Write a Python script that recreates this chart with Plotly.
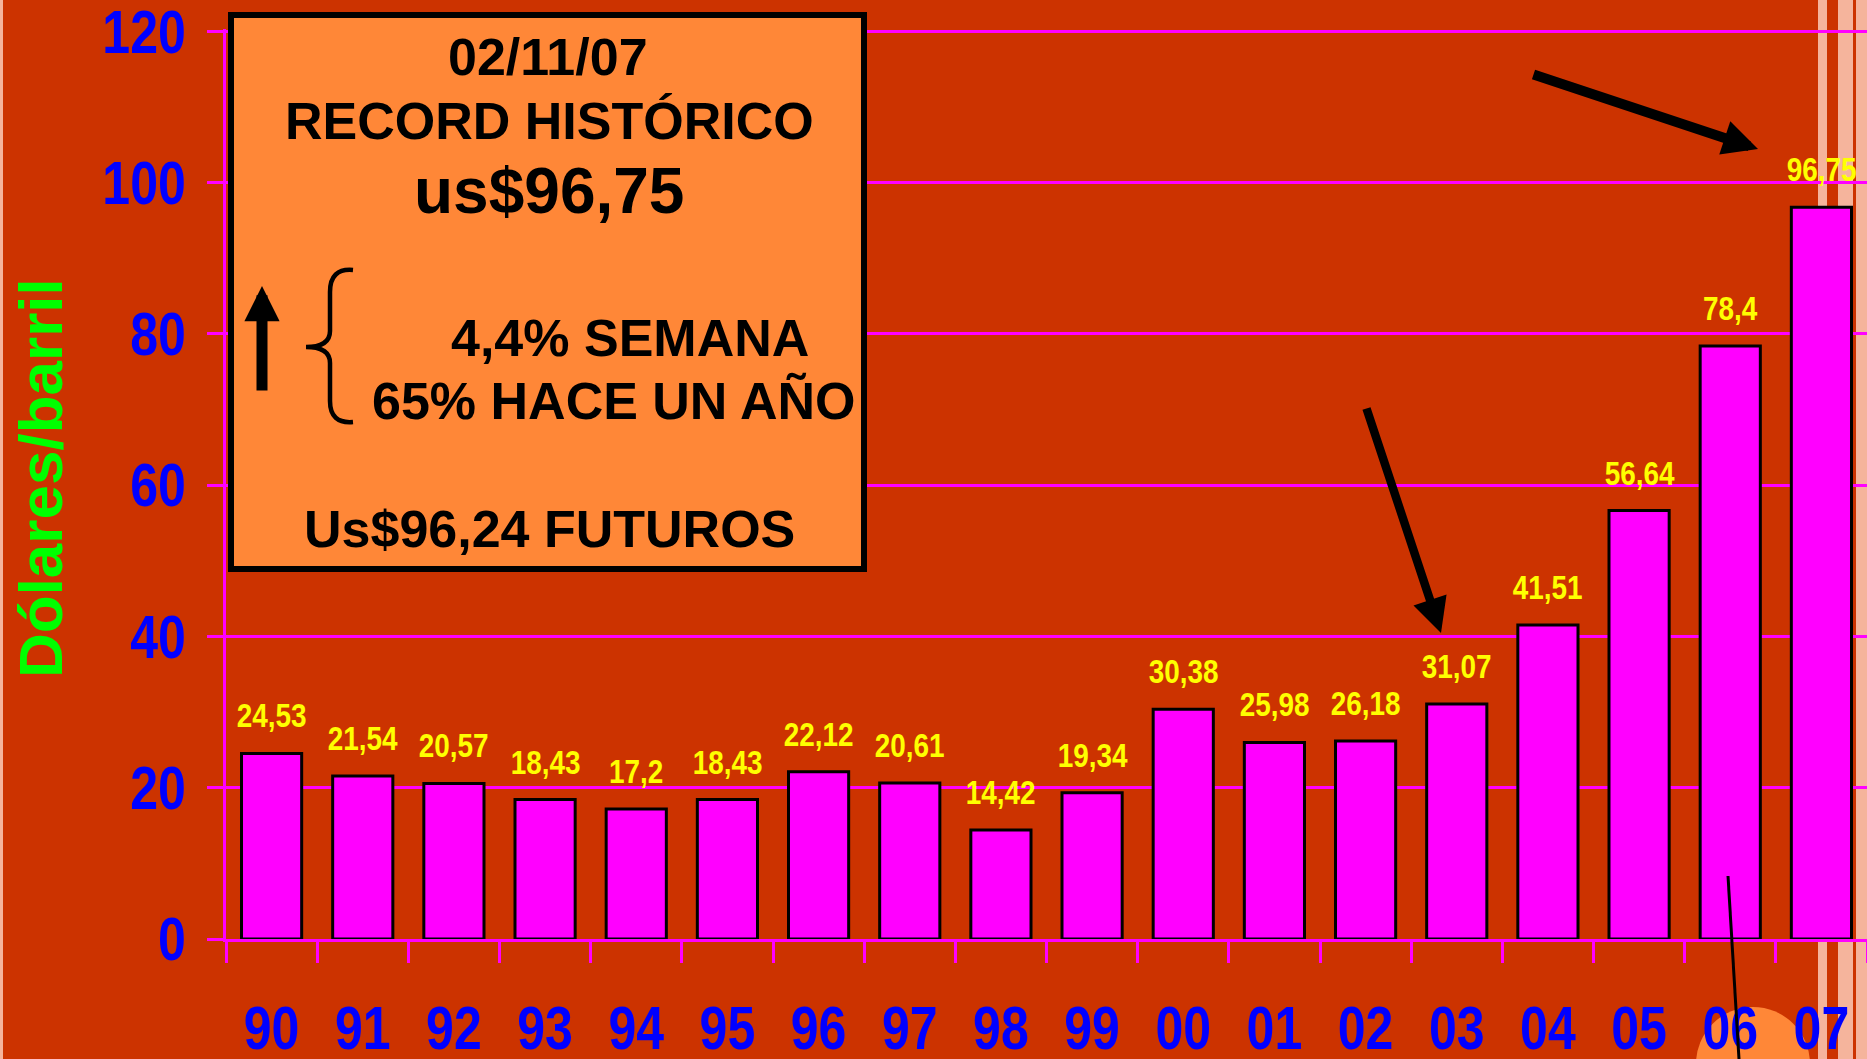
import plotly.graph_objects as go

# ---------------- data ----------------
years = ["90", "91", "92", "93", "94", "95", "96", "97", "98", "99",
         "00", "01", "02", "03", "04", "05", "06", "07"]
prices = [24.53, 21.54, 20.57, 18.43, 17.2, 18.43, 22.12, 20.61, 14.42, 19.34,
          30.38, 25.98, 26.18, 31.07, 41.51, 56.64, 78.4, 96.75]
price_labels = ["24,53", "21,54", "20,57", "18,43", "17,2", "18,43", "22,12", "20,61", "14,42", "19,34",
                "30,38", "25,98", "26,18", "31,07", "41,51", "56,64", "78,4", "96,75"]
y_ticks = [0, 20, 40, 60, 80, 100, 120]

# ---------------- layout geometry ----------------
W, H = 1867, 1059
L, R, T, B = 226, 0, 29, 120
PW, PH = W - L - R, H - T - B
Y_TOP = 120.3


def px(x):
    return (x - L) / PW


def py(y):
    return (H - B - y) / PH


BG = "#CC3300"
BOX = "#FF8737"
STRIPE = "#F5B49C"
MAG = "#FF00FF"
FONT = "Liberation Sans, Arial"

fig = go.Figure()
fig.add_trace(go.Bar(
    x=list(range(len(years))), y=prices,
    marker=dict(color=MAG, line=dict(color="black", width=3)),
    hoverinfo="skip",
))

shapes = []
# left light edge
shapes.append(dict(type="rect", xref="paper", yref="paper", layer="below",
                   x0=px(0), x1=px(3), y0=py(H), y1=py(0),
                   fillcolor=STRIPE, line=dict(width=0)))
# right decorative stripes
for a, b in [(1818, 1827), (1838, 1853), (1856, 1867)]:
    shapes.append(dict(type="rect", xref="paper", yref="paper", layer="below",
                       x0=px(a), x1=px(b), y0=py(H), y1=py(0),
                       fillcolor=STRIPE, line=dict(width=0)))
# orange circle bottom right
shapes.append(dict(type="circle", xref="paper", yref="paper", layer="below",
                   x0=px(1696), x1=px(1810), y0=py(1121), y1=py(1007),
                   fillcolor=BOX, line=dict(width=0)))
# text box
shapes.append(dict(type="rect", xref="paper", yref="paper", layer="above",
                   x0=px(231), x1=px(864), y0=py(569), y1=py(15),
                   fillcolor=BOX, line=dict(color="black", width=6)))
# brace
pts = "M {0},{1} Q {2},{3} {4},{5} L {6},{7} Q {8},{9} {10},{11} Q {12},{13} {14},{15} L {16},{17} Q {18},{19} {20},{21}".format(
    px(353), py(270), px(330), py(268), px(330), py(292),
    px(330), py(331), px(330), py(347), px(306), py(347),
    px(330), py(347), px(330), py(363),
    px(330), py(401), px(330), py(424), px(353), py(422))
shapes.append(dict(type="path", xref="paper", yref="paper", layer="above",
                   path=pts, line=dict(color="black", width=4.5)))
# thin black line
shapes.append(dict(type="line", xref="paper", yref="paper", layer="above",
                   x0=px(1728), y0=py(876), x1=px(1739), y1=py(1059),
                   line=dict(color="black", width=3)))

annotations = []
# value labels
for i, (v, lab) in enumerate(zip(prices, price_labels)):
    annotations.append(dict(x=i, y=v, xref="x", yref="y", text=lab, showarrow=False,
                            yanchor="bottom", yshift=17,
                            font=dict(family=FONT, size=34, color="#FFFF00", weight="bold")))

# y-axis title
annotations.append(dict(x=px(40), y=py(478), xref="paper", yref="paper", text="Dólares/barril",
                        textangle=-90, showarrow=False, xanchor="center", yanchor="middle",
                        font=dict(family=FONT, size=62, color="#00FF00", weight="bold")))

# box texts
box_texts = [
    ("02/11/07", 548, 57, 52),
    ("RECORD HISTÓRICO", 549, 121, 52),
    ("us$96,75", 549, 191, 64),
    ("4,4% SEMANA", 630, 338, 52),
    ("65% HACE UN AÑO", 614, 401, 52),
    ("Us$96,24 FUTUROS", 549, 529, 52),
]
for t, xx, yy, fs in box_texts:
    annotations.append(dict(x=px(xx), y=py(yy), xref="paper", yref="paper", text=t,
                            showarrow=False, xanchor="center", yanchor="middle",
                            font=dict(family=FONT, size=fs, color="black", weight="bold")))

# arrows: (tip_x, tip_y, tail_x, tail_y, width, headsize)
arrows = [
    (262, 286, 262, 392, 11, 0.64),
    (1758, 149, 1532, 74, 10, 0.7),
    (1441, 633, 1366, 407, 8.5, 0.82),
]
for tx, ty, sx, sy, w, hs in arrows:
    annotations.append(dict(x=px(tx), y=py(ty), xref="paper", yref="paper", text="",
                            showarrow=True, ax=sx - tx, ay=sy - ty, axref="pixel", ayref="pixel",
                            arrowhead=2, arrowsize=hs, arrowwidth=w, arrowcolor="black"))

fig.update_layout(
    width=W, height=H,
    margin=dict(l=L, r=R, t=T, b=B, pad=0, autoexpand=False),
    paper_bgcolor=BG, plot_bgcolor="rgba(0,0,0,0)",
    showlegend=False, bargap=0.34,
    shapes=shapes, annotations=annotations,
    xaxis=dict(range=[-0.5, len(years) - 0.5], tickmode="array",
               tickvals=list(range(len(years))), ticktext=years, tickangle=0,
               automargin=False, zeroline=False,
               ticks="", showline=True, linecolor=MAG, linewidth=3, showgrid=False,
               minor=dict(tickmode="array", tickvals=[i - 0.5 for i in range(len(years) + 1)],
                          ticks="outside", ticklen=21, tickwidth=3, tickcolor=MAG, showgrid=False),
               ticklabelstandoff=34, ticklabeloverflow="allow",
               tickfont=dict(family=FONT, size=61, color="#0000FF", weight="bold")),
    yaxis=dict(range=[0, Y_TOP], tickvals=y_ticks, ticktext=[str(v) for v in y_ticks],
               automargin=False,
               showgrid=True, gridcolor=MAG, gridwidth=3, zeroline=False,
               ticks="outside", ticklen=16, tickwidth=3, tickcolor=MAG,
               showline=True, linecolor=MAG, linewidth=3,
               ticklabelstandoff=9, ticklabeloverflow="allow",
               tickfont=dict(family=FONT, size=61, color="#0000FF", weight="bold")),
)

squeeze_js = """
function sq(t){var w=t.getComputedTextLength(); if(w>0){t.setAttribute('textLength', (w*0.82).toFixed(2)); t.setAttribute('lengthAdjust','spacingAndGlyphs');}}
document.querySelectorAll('.xtick text, .ytick text').forEach(sq);
document.querySelectorAll('.annotation-text').forEach(function(t){ if((t.style.fill||'').indexOf('255, 255, 0')>=0) sq(t); });
document.body.style.margin='0';document.body.style.overflow='hidden';
"""

fig.write_html("out.html", config={"displayModeBar": False}, post_script=squeeze_js)
